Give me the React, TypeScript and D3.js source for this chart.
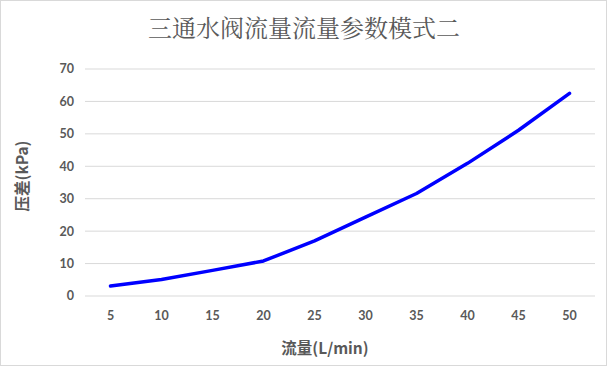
import React from "react";
import * as d3 from "d3";

const categories = ["5", "10", "15", "20", "25", "30", "35", "40", "45", "50"];
const pressure = [3.1, 5.1, 7.9, 10.8, 17, 24.3, 31.6, 40.9, 51.1, 62.5];
const yTicks = [0, 10, 20, 30, 40, 50, 60, 70];
const title = "三通水阀流量流量参数模式二";
const xTitle = "流量(L/min)";
const yTitle = "压差(kPa)";

const W = 607;
const H = 366;
const plot = { left: 85, right: 595, top: 69, bottom: 296 };

export default function App() {
  const x = d3
    .scaleBand<string>()
    .domain(categories)
    .range([plot.left, plot.right]);
  const y = d3.scaleLinear().domain([0, 70]).range([plot.bottom, plot.top]);
  const line = d3
    .line<number>()
    .x((_, i) => (x(categories[i]) as number) + x.bandwidth() / 2)
    .y((d) => y(d));
  const tickFont = "Lato, 'Open Sans', 'Noto Sans', sans-serif";
  const gray = "#595959";
  return (
    <svg
      width={W}
      height={H}
      style={{ position: "absolute", left: 0, top: 0, background: "#fff" }}
    >
      <rect x={0.5} y={0.5} width={W - 1} height={H - 1} fill="#fff" stroke="#d9d9d9" />
      <text
        x={304}
        y={37}
        textAnchor="middle"
        fontFamily="'Noto Serif CJK SC', 'Noto Sans CJK SC', serif"
        fontSize={24}
        fill={gray}
      >
        {title}
      </text>
      {yTicks.map((t) => (
        <g key={t}>
          <line
            x1={plot.left}
            x2={plot.right}
            y1={y(t)}
            y2={y(t)}
            stroke="#d9d9d9"
            strokeWidth={1}
          />
          <text
            x={74}
            y={y(t)}
            dy="0.35em"
            textAnchor="end"
            fontFamily={tickFont}
            fontWeight="bold"
            fontSize={12.5}
            fill={gray}
          >
            {t}
          </text>
        </g>
      ))}
      {categories.map((c) => (
        <text
          key={c}
          x={(x(c) as number) + x.bandwidth() / 2}
          y={316}
          dy="0.35em"
          textAnchor="middle"
          fontFamily={tickFont}
          fontWeight="bold"
          fontSize={12.5}
          fill={gray}
        >
          {c}
        </text>
      ))}
      <path
        d={line(pressure) || ""}
        fill="none"
        stroke="#0000ff"
        strokeWidth={3.5}
        strokeLinejoin="round"
        strokeLinecap="round"
      />
      <text
        x={325}
        y={349}
        dy="0.35em"
        textAnchor="middle"
        fontFamily="'Noto Sans CJK SC', sans-serif"
        fontWeight="bold"
        fontSize={15.5}
        fill={gray}
      >
        {xTitle}
      </text>
      <text
        transform={`translate(23,${176}) rotate(-90)`}
        dy="0.35em"
        textAnchor="middle"
        fontFamily="'Noto Sans CJK SC', sans-serif"
        fontWeight="bold"
        fontSize={15.5}
        fill={gray}
      >
        {yTitle}
      </text>
    </svg>
  );
}
